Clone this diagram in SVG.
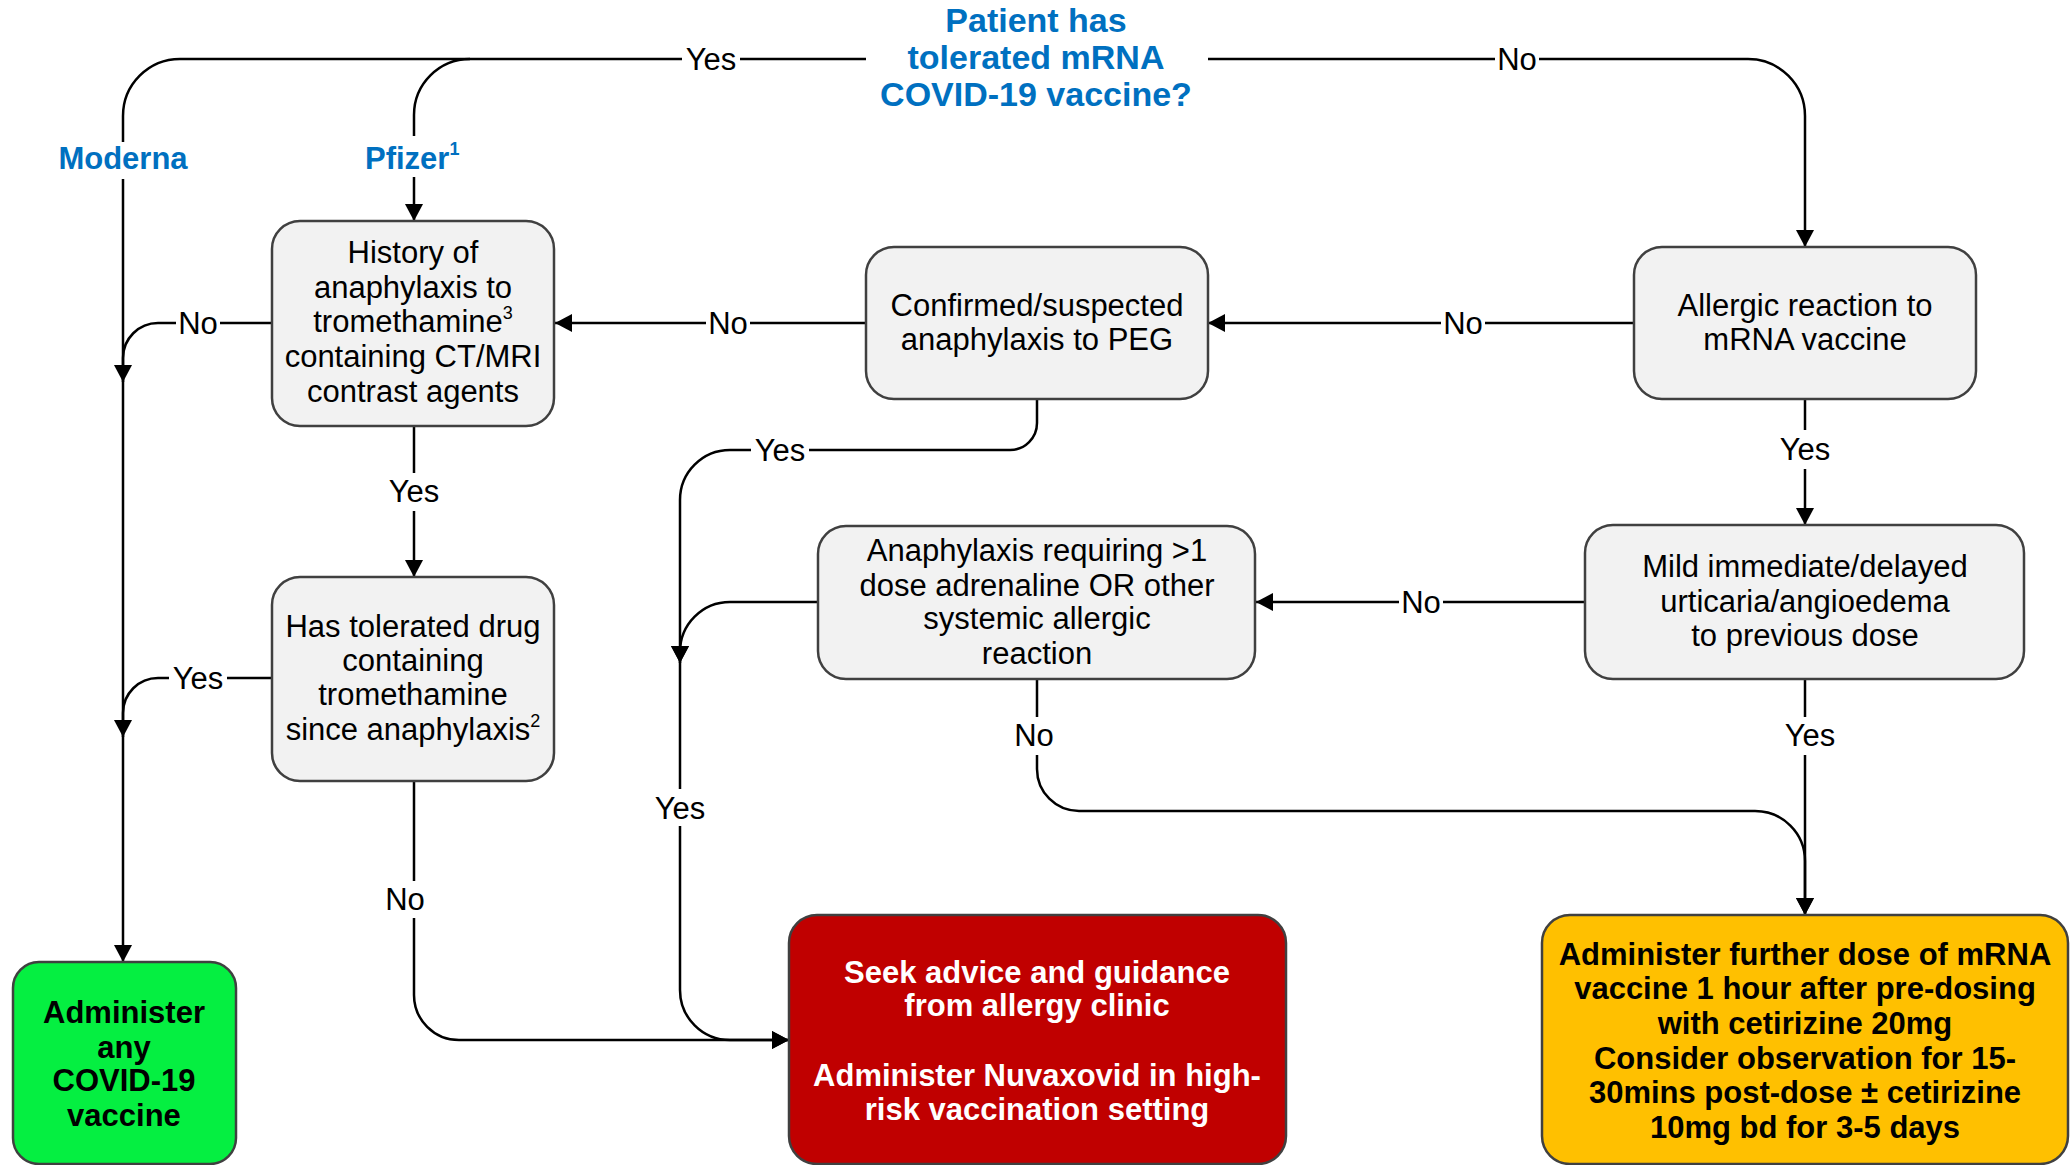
<svg xmlns="http://www.w3.org/2000/svg" width="2070" height="1165" viewBox="0 0 2070 1165">
<style>
text{font-family:"Liberation Sans",Arial,sans-serif;font-size:31px;fill:#000;text-anchor:middle}
.b{font-weight:bold}
.blue{fill:#0070C0;font-weight:bold}
.title{font-size:34px}
.box{stroke:#404040;stroke-width:2.5}
.grey{fill:#F2F2F2}
.con{fill:none;stroke:#000;stroke-width:2.5}
.bg{fill:#fff}
.w{fill:#fff;font-weight:bold}
.sup{font-size:18px}
</style>
<defs>
<marker id="arr" viewBox="0 0 17 18" refX="17" refY="9" markerWidth="17" markerHeight="18" markerUnits="userSpaceOnUse" orient="auto">
<path d="M0,0 L17,9 L0,18 z" fill="#000"/>
</marker>
</defs>
<rect width="2070" height="1165" fill="#fff"/>

<g id="connectors">
<path class="con" d="M866,59 H180 A57,57 0 0 0 123,116 V962" marker-end="url(#arr)"/>
<path class="con" d="M470,59 A56,56 0 0 0 414,115 V221" marker-end="url(#arr)"/>
<path class="con" d="M1208,59 H1748 A57,57 0 0 1 1805,116 V247" marker-end="url(#arr)"/>
<path class="con" d="M1634,323 H1208" marker-end="url(#arr)"/>
<path class="con" d="M866,323 H555" marker-end="url(#arr)"/>
<path class="con" d="M272,323 H158 A35,35 0 0 0 123,358 V382" marker-end="url(#arr)"/>
<path class="con" d="M414,426 V577" marker-end="url(#arr)"/>
<path class="con" d="M272,678 H158 A35,35 0 0 0 123,713 V737" marker-end="url(#arr)"/>
<path class="con" d="M414,781 V995 A45,45 0 0 0 459,1040 H789" marker-end="url(#arr)"/>
<path class="con" d="M1037,399 V423 A27,27 0 0 1 1010,450 H730 A50,50 0 0 0 680,500 V663" marker-end="url(#arr)"/>
<path class="con" d="M818,602 H730 A50,50 0 0 0 680,652 V663" marker-end="url(#arr)"/>
<path class="con" d="M680,663 V990 A50,50 0 0 0 730,1040 H789" marker-end="url(#arr)"/>
<path class="con" d="M1805,399 V525" marker-end="url(#arr)"/>
<path class="con" d="M1585,602 H1256" marker-end="url(#arr)"/>
<path class="con" d="M1805,679 V915" marker-end="url(#arr)"/>
<path class="con" d="M1037,679 V769 A42,42 0 0 0 1079,811 H1755 A50,50 0 0 1 1805,861 V915" marker-end="url(#arr)"/>

<rect class="bg" x="682" y="41" width="58" height="36"/><text x="711" y="70">Yes</text>
<rect class="bg" x="1495" y="41" width="44" height="36"/><text x="1517" y="70">No</text>
<rect class="bg" x="56" y="142" width="134" height="37"/><text class="blue" x="123" y="169">Moderna</text>
<rect class="bg" x="362" y="136" width="100" height="41"/><text class="blue" x="365" y="169" style="text-anchor:start">Pfizer<tspan class="sup" dy="-14">1</tspan></text>
<rect class="bg" x="1441" y="305" width="44" height="36"/><text x="1463" y="334">No</text>
<rect class="bg" x="706" y="305" width="44" height="36"/><text x="728" y="334">No</text>
<rect class="bg" x="176" y="305" width="44" height="36"/><text x="198" y="334">No</text>
<rect class="bg" x="385" y="473" width="58" height="38"/><text x="414" y="502">Yes</text>
<rect class="bg" x="169" y="660" width="58" height="36"/><text x="198" y="689">Yes</text>
<rect class="bg" x="383" y="881" width="44" height="37"/><text x="405" y="910">No</text>
<rect class="bg" x="751" y="432" width="58" height="36"/><text x="780" y="461">Yes</text>
<rect class="bg" x="651" y="789" width="58" height="37"/><text x="680" y="819">Yes</text>
<rect class="bg" x="1776" y="430" width="58" height="39"/><text x="1805" y="460">Yes</text>
<rect class="bg" x="1399" y="584" width="44" height="36"/><text x="1421" y="613">No</text>
<rect class="bg" x="1781" y="717" width="58" height="38"/><text x="1810" y="746">Yes</text>
<rect class="bg" x="1012" y="717" width="44" height="38"/><text x="1034" y="746">No</text>
</g>

<g id="start">
<text class="blue title" x="1036" y="32">Patient has</text>
<text class="blue title" x="1036" y="69">tolerated mRNA</text>
<text class="blue title" x="1036" y="106">COVID-19 vaccine?</text>
</g>

<g id="history">
<rect class="box grey" x="272" y="221" width="282" height="205" rx="28"/>
<text x="413" y="263">History of</text>
<text x="413" y="298">anaphylaxis to</text>
<text x="413" y="332">tromethamine<tspan class="sup" dy="-13">3</tspan></text>
<text x="413" y="367">containing CT/MRI</text>
<text x="413" y="402">contrast agents</text>
</g>

<g id="confirmed">
<rect class="box grey" x="866" y="247" width="342" height="152" rx="28"/>
<text x="1037" y="316">Confirmed/suspected</text>
<text x="1037" y="350">anaphylaxis to PEG</text>
</g>

<g id="allergic">
<rect class="box grey" x="1634" y="247" width="342" height="152" rx="28"/>
<text x="1805" y="316">Allergic reaction to</text>
<text x="1805" y="350">mRNA vaccine</text>
</g>

<g id="tolerated">
<rect class="box grey" x="272" y="577" width="282" height="204" rx="28"/>
<text x="413" y="637">Has tolerated drug</text>
<text x="413" y="671">containing</text>
<text x="413" y="705">tromethamine</text>
<text x="413" y="740">since anaphylaxis<tspan class="sup" dy="-13">2</tspan></text>
</g>

<g id="anaphylaxis">
<rect class="box grey" x="818" y="526" width="437" height="153" rx="28"/>
<text x="1037" y="561">Anaphylaxis requiring &gt;1</text>
<text x="1037" y="596">dose adrenaline OR other</text>
<text x="1037" y="629">systemic allergic</text>
<text x="1037" y="664">reaction</text>
</g>

<g id="mild">
<rect class="box grey" x="1585" y="525" width="439" height="154" rx="28"/>
<text x="1805" y="577">Mild immediate/delayed</text>
<text x="1805" y="612">urticaria/angioedema</text>
<text x="1805" y="646">to previous dose</text>
</g>

<g id="any-vaccine">
<rect class="box" fill="#05EF41" x="13" y="962" width="223" height="202" rx="26"/>
<text class="b" x="124" y="1023">Administer</text>
<text class="b" x="124" y="1058">any</text>
<text class="b" x="124" y="1091">COVID-19</text>
<text class="b" x="124" y="1126">vaccine</text>
</g>

<g id="allergy-clinic">
<rect class="box" fill="#C00000" x="789" y="915" width="497" height="249" rx="28"/>
<text class="w" x="1037" y="983">Seek advice and guidance</text>
<text class="w" x="1037" y="1016">from allergy clinic</text>
<text class="w" x="1037" y="1086">Administer Nuvaxovid in high-</text>
<text class="w" x="1037" y="1120">risk vaccination setting</text>
</g>

<g id="further-dose">
<rect class="box" fill="#FFC000" x="1542" y="915" width="526" height="249" rx="28"/>
<text class="b" x="1805" y="965">Administer further dose of mRNA</text>
<text class="b" x="1805" y="999">vaccine 1 hour after pre-dosing</text>
<text class="b" x="1805" y="1034">with cetirizine 20mg</text>
<text class="b" x="1805" y="1069">Consider observation for 15-</text>
<text class="b" x="1805" y="1103">30mins post-dose ± cetirizine</text>
<text class="b" x="1805" y="1138">10mg bd for 3-5 days</text>
</g>
</svg>
